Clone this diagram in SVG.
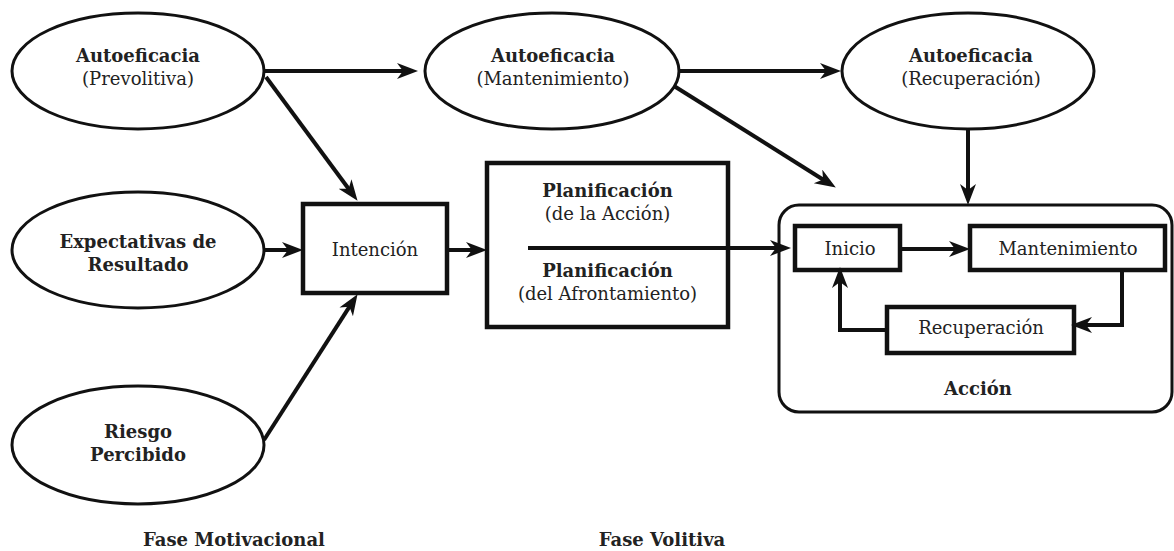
<svg xmlns="http://www.w3.org/2000/svg" width="1174" height="551" viewBox="0 0 1174 551">
<style>
.bg{fill:#fff}
.ell{fill:#fff;stroke:#111;stroke-width:3}
.box{fill:#fff;stroke:#111;stroke-width:4.5}
.cont{fill:#fff;stroke:#111;stroke-width:3}
text{font-family:'DejaVu Serif','Liberation Serif',serif;font-size:18px;fill:#222;text-anchor:middle}
.b{font-weight:bold}
.c{fill:none;stroke:#111;stroke-width:4}
</style>
<defs>
<marker id="ah" markerUnits="userSpaceOnUse" markerWidth="22" markerHeight="18" viewBox="0 0 22 18" refX="10" refY="8" orient="auto">
<path d="M0,0 L21,8 L0,16 L6,8 z" fill="#111"/>
</marker>
</defs>
<rect class="bg" x="0" y="0" width="1174" height="551"/>

<g id="node-autoeficacia-prevolitiva">
<ellipse class="ell" cx="138" cy="71" rx="126" ry="58"/>
<text class="b" x="138" y="62">Autoeficacia</text>
<text x="138" y="85">(Prevolitiva)</text>
</g>
<g id="node-autoeficacia-mantenimiento">
<ellipse class="ell" cx="552" cy="71" rx="127" ry="58"/>
<text class="b" x="553" y="62">Autoeficacia</text>
<text x="553" y="85">(Mantenimiento)</text>
</g>
<g id="node-autoeficacia-recuperacion">
<ellipse class="ell" cx="968" cy="71" rx="126" ry="58"/>
<text class="b" x="971" y="62">Autoeficacia</text>
<text x="971" y="85">(Recuperación)</text>
</g>
<g id="node-expectativas">
<ellipse class="ell" cx="138" cy="250" rx="126" ry="58"/>
<text class="b" x="138" y="248">Expectativas de</text>
<text class="b" x="138" y="271">Resultado</text>
</g>
<g id="node-riesgo">
<ellipse class="ell" cx="138" cy="445" rx="126" ry="59"/>
<text class="b" x="138" y="438">Riesgo</text>
<text class="b" x="138" y="461">Percibido</text>
</g>
<g id="node-intencion">
<rect class="box" x="303" y="204" width="144" height="89"/>
<text x="375" y="256">Intención</text>
</g>
<g id="node-planificacion">
<rect class="box" x="487" y="163" width="241" height="164"/>
<text class="b" x="607.5" y="197">Planificación</text>
<text x="607.5" y="220">(de la Acción)</text>
<text class="b" x="607.5" y="277">Planificación</text>
<text x="607.5" y="300">(del Afrontamiento)</text>
</g>
<g id="node-accion">
<rect class="cont" x="779" y="205" width="393" height="207" rx="20" ry="20"/>
<text class="b" x="978" y="395">Acción</text>
</g>
<g id="node-inicio">
<rect class="box" x="795" y="226" width="105" height="44"/>
<text x="850" y="255">Inicio</text>
</g>
<g id="node-mantenimiento">
<rect class="box" x="970" y="226" width="195" height="44"/>
<text x="1068" y="255">Mantenimiento</text>
</g>
<g id="node-recuperacion">
<rect class="box" x="887" y="307" width="187" height="46"/>
<text x="981" y="334">Recuperación</text>
</g>

<g id="connectors">
<line class="c" x1="265" y1="71" x2="407" y2="71" marker-end="url(#ah)"/>
<line class="c" x1="679" y1="71" x2="830" y2="71" marker-end="url(#ah)"/>
<line class="c" x1="266" y1="77" x2="351" y2="192" marker-end="url(#ah)"/>
<line class="c" x1="264" y1="440" x2="351.6" y2="303.4" marker-end="url(#ah)"/>
<line class="c" x1="674" y1="86" x2="826.5" y2="181.7" marker-end="url(#ah)"/>
<line class="c" x1="968" y1="129" x2="968" y2="194" marker-end="url(#ah)"/>
<line class="c" x1="264" y1="250" x2="292" y2="250" marker-end="url(#ah)"/>
<line class="c" x1="448" y1="250" x2="476" y2="250" marker-end="url(#ah)"/>
<line class="c" x1="528" y1="248" x2="780" y2="248" marker-end="url(#ah)"/>
<line class="c" x1="902" y1="249" x2="959" y2="249" marker-end="url(#ah)"/>
<path class="c" d="M1122,272 V325 H1082" marker-end="url(#ah)"/>
<path class="c" d="M885,330 H840 V278" marker-end="url(#ah)"/>
</g>

<text class="b" x="234" y="546">Fase Motivacional</text>
<text class="b" x="662" y="546">Fase Volitiva</text>
</svg>
